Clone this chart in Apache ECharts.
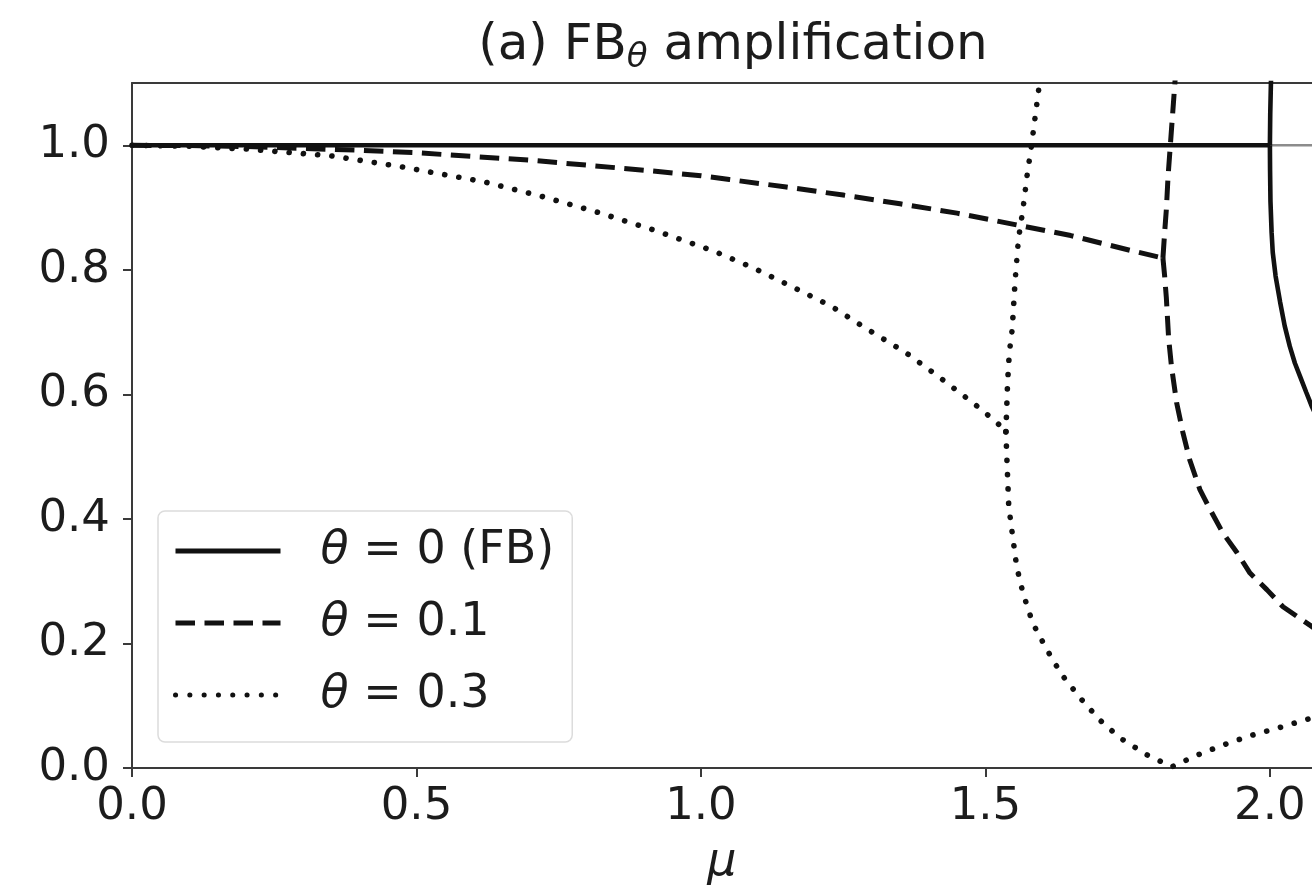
<!DOCTYPE html>
<html>
<head>
<meta charset="utf-8">
<title>FB amplification</title>
<script src="https://cdn.jsdelivr.net/npm/echarts@6/dist/echarts.min.js"></script>
<style>
  html, body { margin: 0; padding: 0; background: #fff; }
  #chart { width: 1312px; height: 896px; }
</style>
</head>
<body>
<div id="chart"></div>
<script>
// Tick positions
const muTicks = [0, 0.5, 1.0, 1.5, 2.0];
const ampTicks = [0, 0.2, 0.4, 0.6, 0.8, 1.0];
const muMax = 2.074;
const ampMax = 1.1;

// theta = 0 (FB): unit modulus up to mu = 2, then two real branches
const fbMu = [0, 0.5, 1.0, 1.5, 2.0];
const fbAmp = [1, 1, 1, 1, 1];
const fbUpMu = [2.0, 2.0006, 2.0018, 2.004];
const fbUpAmp = [1.0, 1.05, 1.10, 1.16];
const fbLowMu = [2.0, 2.0003, 2.001, 2.003, 2.005, 2.010, 2.018, 2.026, 2.035, 2.044, 2.053, 2.064, 2.074, 2.08];
const fbLowAmp = [1.0, 0.96, 0.91, 0.86, 0.828, 0.79, 0.748, 0.71, 0.677, 0.65, 0.629, 0.603, 0.58, 0.568];

// theta = 0.1
const t1Mu = [0, 0.1, 0.2, 0.3, 0.4, 0.5, 0.6, 0.7, 0.8, 0.9, 1.0, 1.05, 1.15, 1.25, 1.35, 1.45, 1.55, 1.65, 1.76, 1.812];
const t1Amp = [1.0, 0.9995, 0.998, 0.995, 0.992, 0.988, 0.982, 0.976, 0.968, 0.960, 0.951, 0.945, 0.933, 0.920, 0.906, 0.891, 0.873, 0.855, 0.830, 0.819];
const t1UpMu = [1.812, 1.815, 1.818, 1.821, 1.825, 1.829, 1.833, 1.837];
const t1UpAmp = [0.819, 0.86, 0.897, 0.95, 1.0, 1.05, 1.10, 1.15];
const t1LowMu = [1.812, 1.815, 1.818, 1.822, 1.827, 1.836, 1.847, 1.859, 1.877, 1.895, 1.917, 1.942, 1.965, 1.995, 2.023, 2.05, 2.074, 2.08];
const t1LowAmp = [0.819, 0.79, 0.755, 0.69, 0.645, 0.587, 0.539, 0.495, 0.447, 0.415, 0.378, 0.346, 0.313, 0.286, 0.259, 0.242, 0.227, 0.223];

// theta = 0.3
const t3Mu = [0, 0.1, 0.2, 0.35, 0.47, 0.62, 0.72, 0.82, 0.92, 1.02, 1.09, 1.16, 1.23, 1.29, 1.36, 1.42, 1.48, 1.52, 1.536];
const t3Amp = [1.0, 0.9985, 0.994, 0.983, 0.966, 0.941, 0.918, 0.892, 0.863, 0.831, 0.804, 0.773, 0.741, 0.706, 0.667, 0.627, 0.585, 0.555, 0.540];
const t3UpMu = [1.536, 1.539, 1.542, 1.547, 1.552, 1.558, 1.566, 1.573, 1.581, 1.593, 1.599];
const t3UpAmp = [0.540, 0.62, 0.667, 0.704, 0.78, 0.849, 0.897, 0.95, 1.0, 1.085, 1.13];
const t3LowMu = [1.536, 1.538, 1.541, 1.548, 1.555, 1.566, 1.583, 1.608, 1.634, 1.666, 1.701, 1.737, 1.784, 1.828, 1.873, 1.924, 1.970, 2.021, 2.069, 2.08];
const t3LowAmp = [0.540, 0.49, 0.42, 0.371, 0.323, 0.281, 0.233, 0.190, 0.150, 0.113, 0.077, 0.048, 0.021, 0.002, 0.021, 0.039, 0.053, 0.066, 0.079, 0.081];

// Reference level |lambda| = 1
const refMu = [0, muMax];
const refAmp = [1, 1];

const names = ['θ = 0 (FB)', 'θ = 0.1', 'θ = 0.3'];

const pairs = (xs, ys) => xs.map((x, i) => [x, ys[i]]);
const FONT = 'DejaVu Sans';
const INK = '#1c1c1c';

const solid = { color: '#111', width: 4.6, type: 'solid' };
const dashed = { color: '#111', width: 5, type: [19.5, 9.5], cap: 'butt' };
const dotted = { color: '#111', width: 5.6, type: [0.1, 14.2], cap: 'round' };

function curve(name, data, style, z) {
  return {
    name, type: 'line', data, symbol: 'none', showSymbol: false,
    lineStyle: style, itemStyle: { color: '#111' }, z, clip: true,
    silent: true, animation: false
  };
}

const chart = echarts.init(document.getElementById('chart'), null, { renderer: 'canvas' });

const onTick = (ticks) => (v) => ticks.some(t => Math.abs(t - v) < 1e-9) ? v.toFixed(1) : '';

chart.setOption({
  animation: false,
  backgroundColor: '#fff',
  grid: { left: 132, right: 0, top: 83, bottom: 128, containLabel: false },
  graphic: [{
    type: 'text', x: 733, y: 46, z: 10,
    style: {
      text: '{n|(a) FB}{s|θ}{n| amplification}',
      align: 'center', verticalAlign: 'middle',
      rich: {
        n: { fontFamily: FONT, fontSize: 50, fill: INK, lineHeight: 58, verticalAlign: 'middle' },
        s: { fontFamily: FONT, fontSize: 34, fontStyle: 'italic', fill: INK, lineHeight: 30, verticalAlign: 'bottom' }
      }
    }
  }],
  legend: {
    data: names,
    orient: 'vertical',
    left: 158, top: 511,
    itemWidth: 105, itemHeight: 46, itemGap: 26,
    padding: [17, 18, 24, 15],
    backgroundColor: 'rgba(255,255,255,0.85)',
    borderColor: '#dcdcdc', borderWidth: 1.5, borderRadius: 7,
    selectedMode: false,
    itemStyle: { opacity: 0 },
    lineStyle: { width: 5 },
    formatter: (n) => n.replace('θ', '{i|θ}'),
    textStyle: {
      fontFamily: FONT, fontSize: 46, color: INK, padding: [0, 0, 0, 35],
      rich: { i: { fontFamily: FONT, fontSize: 46, fontStyle: 'italic', color: INK } }
    }
  },
  xAxis: [{
    type: 'value', min: 0, max: muMax, interval: 0.5,
    name: 'μ', nameLocation: 'middle', nameGap: 72,
    nameTextStyle: { fontFamily: FONT, fontSize: 46, fontStyle: 'italic', color: INK },
    axisLine: { show: true, onZero: false, lineStyle: { color: '#3a3a3a', width: 2 } },
    axisTick: { show: true, inside: false, length: 9, customValues: muTicks, lineStyle: { color: '#3a3a3a', width: 2 } },
    axisLabel: { customValues: muTicks, formatter: onTick(muTicks), fontFamily: FONT, fontSize: 45, color: INK, margin: 17 },
    splitLine: { show: false }
  }, {
    type: 'value', position: 'top', min: 0, max: muMax,
    axisLine: { show: true, onZero: false, lineStyle: { color: '#3a3a3a', width: 2 } },
    axisTick: { show: false }, axisLabel: { show: false }, splitLine: { show: false }
  }],
  yAxis: {
    type: 'value', min: 0, max: ampMax, interval: 0.2,
    axisLine: { show: true, onZero: false, lineStyle: { color: '#3a3a3a', width: 2 } },
    axisTick: { show: true, inside: false, length: 9, customValues: ampTicks, lineStyle: { color: '#3a3a3a', width: 2 } },
    axisLabel: { customValues: ampTicks, formatter: onTick(ampTicks), fontFamily: FONT, fontSize: 45, color: INK, margin: 22 },
    splitLine: { show: false }
  },
  series: [
    { type: 'line', data: pairs(refMu, refAmp), symbol: 'none', lineStyle: { color: '#8c8c8c', width: 2.5 }, z: 1, silent: true, animation: false },
    curve(names[0], pairs(fbMu, fbAmp), solid, 2),
    curve(names[0], pairs(fbUpMu, fbUpAmp), solid, 2),
    curve(names[0], pairs(fbLowMu, fbLowAmp), solid, 2),
    curve(names[1], pairs(t1Mu, t1Amp), dashed, 3),
    curve(names[1], pairs(t1UpMu, t1UpAmp), dashed, 3),
    curve(names[1], pairs(t1LowMu, t1LowAmp), dashed, 3),
    curve(names[2], pairs(t3Mu, t3Amp), dotted, 4),
    curve(names[2], pairs(t3UpMu, t3UpAmp), dotted, 4),
    curve(names[2], pairs(t3LowMu, t3LowAmp), dotted, 4)
  ]
});
</script>
</body>
</html>
